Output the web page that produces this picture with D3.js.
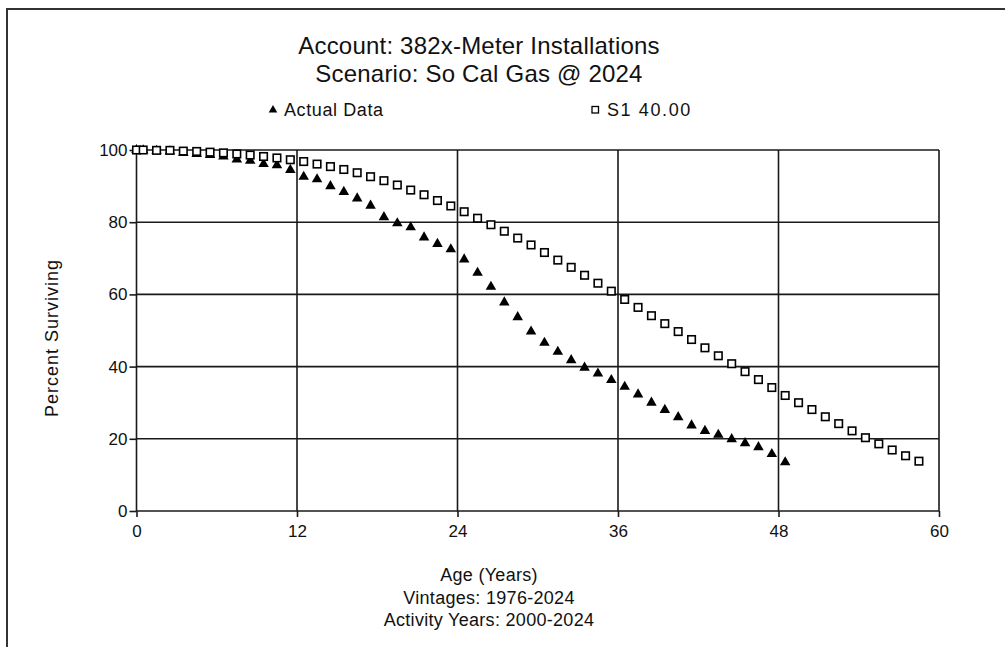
<!DOCTYPE html>
<html>
<head>
<meta charset="utf-8">
<script src="https://cdn.jsdelivr.net/npm/d3@7/dist/d3.min.js"></script>
<style>
  html, body { margin: 0; padding: 0; background: #fff; }
  svg { display: block; }
  text { font-family: "Liberation Sans", Arial, sans-serif; fill: #111; }
</style>
</head>
<body>
<svg id="chart" width="1005" height="647"></svg>
<script>
// Survivor curve data: observed retirement experience and fitted Iowa S1 curve
const titleLines = ["Account: 382x-Meter Installations", "Scenario: So Cal Gas @ 2024"];
const seriesNames = ["Actual Data", "S1 40.00"];

const actualAges = [0, 0.5, 1.5, 2.5, 3.5, 4.5, 5.5, 6.5, 7.5, 8.5, 9.5, 10.5, 11.5, 12.5, 13.5,
  14.5, 15.5, 16.5, 17.5, 18.5, 19.5, 20.5, 21.5, 22.5, 23.5, 24.5, 25.5, 26.5, 27.5, 28.5,
  29.5, 30.5, 31.5, 32.5, 33.5, 34.5, 35.5, 36.5, 37.5, 38.5, 39.5, 40.5, 41.5, 42.5, 43.5,
  44.5, 45.5, 46.5, 47.5, 48.5];
const actualPct = [100, 99.9, 99.8, 99.6, 99.2, 98.9, 98.6, 98.2, 97.4, 97.0, 96.1, 95.8, 94.5,
  92.6, 91.9, 90.0, 88.4, 86.6, 84.6, 81.4, 79.7, 78.6, 75.8, 74.0, 72.5, 69.7, 66.0, 62.1,
  57.8, 53.7, 49.7, 46.6, 44.1, 41.8, 39.7, 38.1, 36.3, 34.4, 32.3, 30.0, 28.0, 26.0, 23.7,
  22.2, 21.1, 19.9, 18.8, 17.7, 15.8, 13.5];

const curveAges = [0, 0.5, 1.5, 2.5, 3.5, 4.5, 5.5, 6.5, 7.5, 8.5, 9.5, 10.5, 11.5, 12.5, 13.5,
  14.5, 15.5, 16.5, 17.5, 18.5, 19.5, 20.5, 21.5, 22.5, 23.5, 24.5, 25.5, 26.5, 27.5, 28.5,
  29.5, 30.5, 31.5, 32.5, 33.5, 34.5, 35.5, 36.5, 37.5, 38.5, 39.5, 40.5, 41.5, 42.5, 43.5,
  44.5, 45.5, 46.5, 47.5, 48.5, 49.5, 50.5, 51.5, 52.5, 53.5, 54.5, 55.5, 56.5, 57.5, 58.5];
const curvePct = [100, 100, 99.9, 99.9, 99.7, 99.6, 99.4, 99.2, 98.9, 98.6, 98.2, 97.8, 97.3,
  96.8, 96.1, 95.4, 94.6, 93.7, 92.6, 91.5, 90.3, 88.9, 87.6, 86.0, 84.5, 82.9, 81.1, 79.3,
  77.5, 75.6, 73.7, 71.6, 69.5, 67.5, 65.3, 63.1, 60.9, 58.6, 56.4, 54.1, 51.9, 49.7, 47.5,
  45.2, 43.0, 40.8, 38.6, 36.4, 34.2, 32.0, 30.0, 28.1, 26.1, 24.2, 22.2, 20.3, 18.6, 16.9,
  15.3, 13.8];

const xTicks = [0, 12, 24, 36, 48, 60];
const yTicks = [0, 20, 40, 60, 80, 100];
const xTitleLines = ["Age (Years)", "Vintages: 1976-2024", "Activity Years: 2000-2024"];
const yTitle = "Percent Surviving";

const svg = d3.select("#chart");
const ink = "#1a1a1a";

// Outer frame (top and left edges)
svg.append("path")
  .attr("d", "M7,647 V9 H1005")
  .attr("fill", "none").attr("stroke", "#333").attr("stroke-width", 2);

const x = d3.scaleLinear().domain([0, 60]).range([136.5, 939]);
const y = d3.scaleLinear().domain([0, 100]).range([511, 150]);

// Gridlines
const grid = svg.append("g").attr("stroke", ink).attr("stroke-width", 1.6);
grid.selectAll("line.v").data(xTicks).join("line")
  .attr("x1", d => x(d)).attr("x2", d => x(d))
  .attr("y1", y(100)).attr("y2", y(0));
grid.selectAll("line.h").data(yTicks).join("line")
  .attr("x1", x(0)).attr("x2", x(60))
  .attr("y1", d => y(d)).attr("y2", d => y(d));

// Axes
const xAxis = svg.append("g").attr("transform", `translate(0,${y(0)})`)
  .call(d3.axisBottom(x).tickValues(xTicks).tickSize(6).tickPadding(8).tickFormat(d3.format("d")));
const yAxis = svg.append("g").attr("transform", `translate(${x(0)},0)`)
  .call(d3.axisLeft(y).tickValues(yTicks).tickSize(7).tickPadding(2).tickFormat(d3.format("d")));
[xAxis, yAxis].forEach(a => {
  a.select(".domain").remove();
  a.selectAll(".tick line").attr("stroke", ink).attr("stroke-width", 1.6);
  a.selectAll(".tick text").style("font-family", "'Liberation Sans', Arial, sans-serif")
    .style("font-size", "17px").attr("fill", "#111");
});

// Actual data: filled triangles
const tri = d3.symbol().type(d3.symbolTriangle).size(48);
svg.append("g").selectAll("path").data(actualAges.map((a, i) => [a, actualPct[i]])).join("path")
  .attr("d", tri)
  .attr("transform", d => `translate(${x(d[0])},${y(d[1])})`)
  .attr("fill", "#000");

// Fitted curve: open squares
const sq = 7.5;
svg.append("g").selectAll("rect").data(curveAges.map((a, i) => [a, curvePct[i]])).join("rect")
  .attr("x", d => x(d[0]) - sq / 2).attr("y", d => y(d[1]) - sq / 2)
  .attr("width", sq).attr("height", sq)
  .attr("fill", "#fff").attr("stroke", "#000").attr("stroke-width", 1.6);

// Titles
svg.append("g").selectAll("text").data(titleLines).join("text")
  .attr("x", 479).attr("y", (d, i) => 54 + i * 28)
  .attr("text-anchor", "middle").style("font-size", "24px").style("letter-spacing", "0.2px")
  .text(d => d);

// Legend
const legend = svg.append("g");
legend.append("path").attr("d", d3.symbol().type(d3.symbolTriangle).size(32))
  .attr("transform", "translate(273,110)").attr("fill", "#000");
legend.append("text").attr("x", 284).attr("y", 116).style("font-size", "18px")
  .style("letter-spacing", "0.6px").text(seriesNames[0]);
legend.append("rect").attr("x", 592).attr("y", 106.5).attr("width", 6.5).attr("height", 6.5)
  .attr("fill", "#fff").attr("stroke", "#000").attr("stroke-width", 1.3);
legend.append("text").attr("x", 607).attr("y", 116).style("font-size", "18px")
  .style("letter-spacing", "1.6px").text(seriesNames[1]);

// Axis titles
svg.append("g").selectAll("text").data(xTitleLines).join("text")
  .attr("x", 489).attr("y", (d, i) => 581 + i * 22.5)
  .attr("text-anchor", "middle").style("font-size", "18px").style("letter-spacing", "0.3px")
  .text(d => d);
svg.append("text")
  .attr("transform", "translate(58,338) rotate(-90)")
  .attr("text-anchor", "middle").style("font-size", "18px").style("letter-spacing", "1px")
  .text(yTitle);
</script>
</body>
</html>
